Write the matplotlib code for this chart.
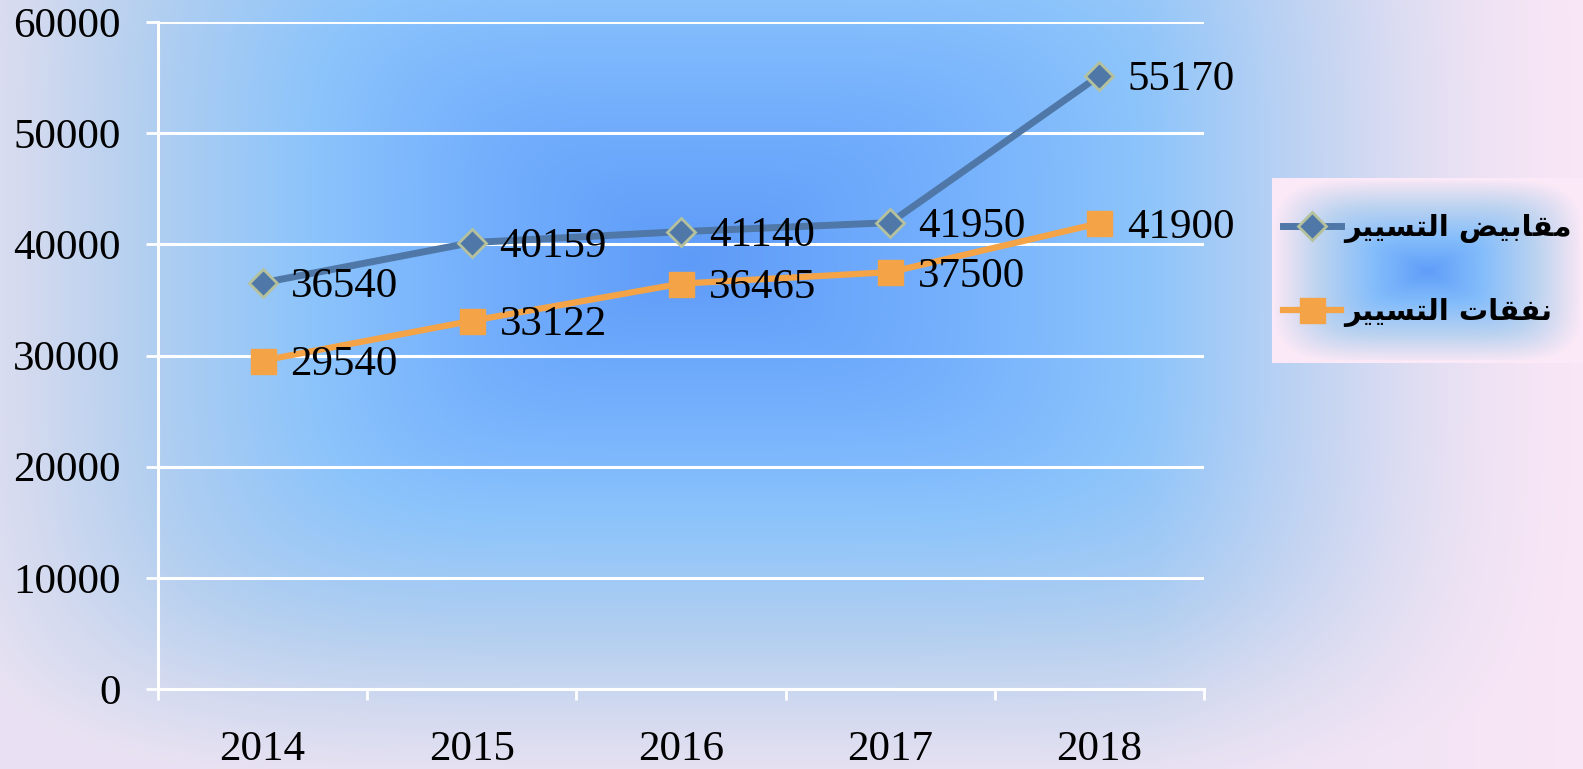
import numpy as np
import matplotlib
matplotlib.use("Agg")
import matplotlib.pyplot as plt
from matplotlib.patches import Rectangle

years = ["2014", "2015", "2016", "2017", "2018"]
receipts = [36540, 40159, 41140, 41950, 55170]
expenses = [29540, 33122, 36465, 37500, 41900]
receipts_label = "مقابيض التسيير"
expenses_label = "نفقات التسيير"

# matplotlib has no arabic shaping, so pick presentation forms by hand
# (iso, final, initial, medial)
FORMS = {
    "ا": ("\ufe8d", "\ufe8e", "\ufe8d", "\ufe8e"),
    "ب": ("\ufe8f", "\ufe90", "\ufe91", "\ufe92"),
    "ت": ("\ufe95", "\ufe96", "\ufe97", "\ufe98"),
    "ر": ("\ufead", "\ufeae", "\ufead", "\ufeae"),
    "س": ("\ufeb1", "\ufeb2", "\ufeb3", "\ufeb4"),
    "ض": ("\ufebd", "\ufebe", "\ufebf", "\ufec0"),
    "ف": ("\ufed1", "\ufed2", "\ufed3", "\ufed4"),
    "ق": ("\ufed5", "\ufed6", "\ufed7", "\ufed8"),
    "ل": ("\ufedd", "\ufede", "\ufedf", "\ufee0"),
    "م": ("\ufee1", "\ufee2", "\ufee3", "\ufee4"),
    "ن": ("\ufee5", "\ufee6", "\ufee7", "\ufee8"),
    "ي": ("\ufef1", "\ufef2", "\ufef3", "\ufef4"),
}
RIGHT_ONLY = set("ار")


def shape(s):
    out = []
    for i, c in enumerate(s):
        if c not in FORMS:
            out.append(c)
            continue
        prev = s[i - 1] if i > 0 else ""
        nxt = s[i + 1] if i + 1 < len(s) else ""
        jp = prev in FORMS and prev not in RIGHT_ONLY
        jn = nxt in FORMS and c not in RIGHT_ONLY
        iso, fin, ini, med = FORMS[c]
        out.append(med if (jp and jn) else fin if jp else ini if jn else iso)
    return "".join(reversed(out))


def gradient(w, h, cx, cy, left, right, up, down, stops, cols, pink_from=None):
    xx, yy = np.meshgrid(np.arange(w), np.arange(h))
    dx = np.where(xx < cx, (cx - xx) / left, (xx - cx) / right)
    dy = np.where(yy < cy, (cy - yy) / up, (yy - cy) / down)
    t = np.clip((dx ** 5 + dy ** 5) ** (1 / 5), 0, 1)
    cols = np.array([matplotlib.colors.to_rgb(c) for c in cols])
    img = np.stack([np.interp(t, stops, cols[:, k]) for k in range(3)], axis=-1)
    if pink_from is not None:
        m = np.clip((xx - pink_from) / (w - pink_from), 0, 1)[..., None] * t[..., None]
        img = img * (1 - m) + np.array(matplotlib.colors.to_rgb("#f9e6f6")) * m
    return img


W, H = 1583, 769
fig = plt.figure(figsize=(W / 100, H / 100), dpi=100)

bg = fig.add_axes([0, 0, 1, 1], zorder=-1)
bg.imshow(gradient(W, H, 690, 260, 760, 900, 560, 520,
                   [0, 0.3, 0.5, 0.72, 0.87, 1.0],
                   ["#5e9bf8", "#76b1fd", "#8cc4fb", "#b3cff0", "#d3daef", "#e9e2f3"],
                   pink_from=1150),
          aspect="auto", extent=[0, 1, 0, 1])
bg.set_xlim(0, 1)
bg.set_ylim(0, 1)
bg.axis("off")

ax = fig.add_axes([158 / W, 1 - 689 / H, (1204 - 158) / W, (689 - 22) / H])
ax.set_facecolor("none")
x = np.arange(len(years))

ax.plot(x, receipts, color="#4f77a8", lw=5, marker="D", ms=14,
        mfc="#4f77a8", mec="#b4c19c", mew=2, label=shape(receipts_label), zorder=4)
ax.plot(x, expenses, color="#f4a446", lw=4.5, marker="s", ms=18,
        mfc="#f4a446", mec="#f4a446", label=shape(expenses_label), zorder=4)

for xi, v in zip(x, receipts):
    ax.annotate(str(v), (xi, v), xytext=(20, -3), textcoords="offset points",
                ha="left", va="center", fontsize=31, family="Liberation Serif", zorder=5)
for xi, v in zip(x, expenses):
    ax.annotate(str(v), (xi, v), xytext=(20, -3), textcoords="offset points",
                ha="left", va="center", fontsize=31, family="Liberation Serif", zorder=5)

ax.set_xlim(-0.5, len(years) - 0.5)
ax.set_ylim(0, 60000)
ax.set_yticks(range(0, 60001, 10000))
ax.set_yticklabels([str(v) for v in range(0, 60001, 10000)],
                   fontsize=31, family="Liberation Serif")
ax.set_xticks(x)
ax.set_xticklabels(years, fontsize=31, family="Liberation Serif")
ax.set_xticks(np.arange(-0.5, len(years), 1), minor=True)
ax.tick_params(axis="x", which="major", length=0, pad=30)
ax.tick_params(axis="x", which="minor", length=8, width=2, color="white")
ax.tick_params(axis="y", length=9, width=2, color="white", pad=18)
ax.grid(axis="y", color="white", lw=2.2)
ax.set_axisbelow(True)
for s in ["top", "right"]:
    ax.spines[s].set_visible(False)
for s in ["left", "bottom"]:
    ax.spines[s].set_color("white")
    ax.spines[s].set_linewidth(2.2)

# legend box with its own gradient
lw_, lh_ = 1583 - 1272, 363 - 178
lax = fig.add_axes([1272 / W, 1 - 363 / H, lw_ / W, lh_ / H])
lax.imshow(gradient(lw_, lh_, lw_ / 2, lh_ / 2, lw_ / 2, lw_ / 2, lh_ / 2, lh_ / 2,
                    [0, 0.35, 0.7, 0.9, 1.0],
                    ["#5f9df9", "#84bdfb", "#bcd3f0", "#e6e1f3", "#fbe9f7"]),
           aspect="auto", extent=[0, 1, 0, 1])
lax.add_patch(Rectangle((0, 0), 1, 1, fill=False, ec="#fbe9f7", lw=4,
                        transform=lax.transAxes))
lax.set_xlim(0, 1)
lax.set_ylim(0, 1)
lax.axis("off")
handles, labels = ax.get_legend_handles_labels()
lax.legend(handles, labels, loc="center", frameon=False,
           prop={"family": "DejaVu Sans", "weight": "bold", "size": 21},
           handlelength=2.0, handletextpad=0.1, labelspacing=1.9)

fig.savefig("out.png", dpi=100)
